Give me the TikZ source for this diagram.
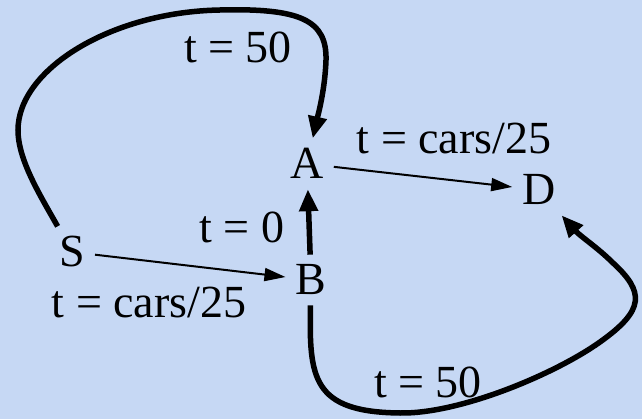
\documentclass[tikz,border=0pt]{standalone}
\usepackage{fontspec}
\setmainfont{Liberation Serif}
\newfontfamily\timesfont{Liberation Serif}
\usetikzlibrary{arrows.meta}
\definecolor{bgblue}{RGB}{198,216,244}
\tikzset{
  lbl/.style={anchor=base, inner sep=0pt, font=\timesfont\fontsize{46}{50}\selectfont},
  vtx/.style={anchor=base, inner sep=10pt, font=\timesfont\fontsize{46}{50}\selectfont},
  thinarrow/.style={line width=2pt, -{Triangle[length=21pt,width=13pt]}},
  thickarrow/.style={line width=5.5pt, -{Triangle[length=22pt,width=18pt]}}
}
\begin{document}
\begin{tikzpicture}[x=1pt,y=-1pt]
  \fill[bgblue] (0,0) rectangle (642,419);
  \useasboundingbox (0,0) rectangle (642,419);
  % vertices
  \node[vtx] (S) at (72,267) {S};
  \node[vtx] (A) at (307,179) {A};
  \node[vtx] (B) at (311,295) {B};
  \node[vtx] (D) at (539,205) {D};
  % labels
  \node[lbl] (l1) at (238,63) {t = 50};
  \node[lbl] (l2) at (454,154) {t = cars/25};
  \node[lbl] (l3) at (242,243) {t = 0};
  \node[lbl] (l4) at (149,317) {t = cars/25};
  \node[lbl] (l5) at (428,397) {t = 50};
  % connectors
  \draw[thinarrow] (S) -- (B);
  \draw[thinarrow] (A) -- (D);
  \draw[thickarrow] (B) -- (A);
  \draw[thickarrow] (S) .. controls (40,195) and (18,160) .. (18,130)
     .. controls (18,70) and (110,12) .. (220,10)
     .. controls (300,8) and (327,20) .. (326,60)
     .. controls (325,90) and (318,115) .. (A);
  \draw[thickarrow] (B) .. controls (309,378) and (312,412) .. (400,413)
     .. controls (460,414) and (555,374) .. (600,342)
     .. controls (645,310) and (645,292) .. (612,262)
     .. controls (598,248) and (580,236) .. (D);
\end{tikzpicture}
\end{document}
